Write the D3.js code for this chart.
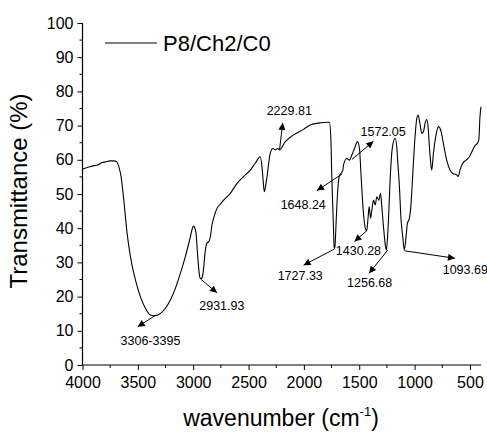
<!DOCTYPE html>
<html><head><meta charset="utf-8">
<script src="https://cdn.jsdelivr.net/npm/d3@7"></script>
<style>
html,body{margin:0;padding:0;background:#fff;}
text{font-family:"Liberation Sans",Arial,sans-serif;fill:#000;}
</style></head>
<body><svg id="c" width="487" height="437"></svg>
<script>
const wavenumber = [4000,3950,3898,3860,3838,3792,3750,3718,3693,3672,3651,3627,3597,3567,3522,3477,3432,3386,3360,3330,3296,3251,3206,3161,3116,3071,3025,3005,2996,2985,2974,2959,2941,2932,2920,2911,2890,2875,2860,2845,2830,2810,2785,2755,2725,2665,2604,2545,2484,2439,2394,2379,2368,2358,2345,2333,2304,2279,2259,2238,2220,2168,2093,2003,1943,1853,1790,1769,1756,1747,1732,1727,1720,1708,1696,1681,1666,1648,1642,1612,1589,1567,1543,1516,1498,1483,1462,1440,1432,1422,1410,1398,1386,1371,1356,1341,1323,1308,1296,1281,1263,1255,1245,1236,1221,1200,1176,1160,1155,1137,1122,1107,1093,1077,1065,1047,1034,1016,998,980,968,950,935,920,905,890,878,866,854,845,830,809,785,764,740,710,680,655,635,620,605,590,565,535,505,475,451,433,420,409,400];
const transmittance = [57.3,57.8,58.3,58.5,59.0,59.4,59.7,59.7,59.5,58.0,55.0,48.2,38.5,31.7,24.9,20.0,16.6,14.6,14.4,14.5,15.1,16.6,19.0,22.4,26.8,31.7,37.5,40.2,40.6,40.0,38.5,31.7,25.8,25.2,25.6,26.8,33.6,35.7,36.0,37.5,41.0,43.5,45.8,47.0,48.2,50.2,53.1,55.1,57.0,59.0,60.9,58.0,54.0,50.7,52.5,55.1,61.9,63.3,62.9,63.3,62.9,65.3,67.3,68.9,70.2,70.8,71.0,71.0,65.8,54.1,39.5,34.1,34.5,42.4,50.2,55.1,56.0,57.0,58.5,60.4,59.9,61.4,63.3,65.3,63.3,55.1,44.4,39.5,39.3,42.4,46.3,42.9,45.3,48.2,46.8,49.2,48.2,50.2,46.3,40.5,34.7,33.6,37.0,42.4,54.1,63.8,66.3,63.5,60.9,52.1,42.4,37.5,33.6,37.5,41.4,42.9,46.3,56.0,65.8,72.1,73.1,70.2,67.7,68.2,70.7,71.8,69.7,63.8,59.0,57.0,61.9,66.8,69.7,68.7,64.8,59.9,57.0,56.0,55.8,55.6,55.1,57.0,59.0,59.9,60.9,62.9,64.3,64.8,65.8,72.7,75.5];
const seriesName = "P8/Ch2/C0";
const xTicks = [4000,3500,3000,2500,2000,1500,1000,500];
const yTicks = [0,10,20,30,40,50,60,70,80,90,100];
// annotations: label, arrow start [wn,T], arrow end [wn,T], label anchor [wn,T]
const annLabels = ["3306-3395","2931.93","2229.81","1648.24","1572.05","1727.33","1430.28","1256.68","1093.69"];
const annFrom = [[3341,14.5],[2931,25.1],[2220,62.9],[1657,55.8],[1567,60.1],[1724,33.9],[1431,39.3],[1242,33.6],[1092,33.4]];
const annTo   = [[3501,11.2],[2785,21.1],[2191,70.8],[1882,51.0],[1372,65.4],[2003,29.2],[1543,36.1],[1411,26.8],[635,31.2]];
const annText = [[3386,5.85],[2741,16.1],[2132,73.1],[2006,45.6],[1284,67.0],[2033,24.9],[1507,32.2],[1406,22.8],[542,26.6]];

const svg = d3.select("#c");
svg.append("rect").attr("width",487).attr("height",437).attr("fill","#fff");
const x = d3.scaleLinear().domain([4000,400]).range([82.5,481]);
const y = d3.scaleLinear().domain([0,100]).range([365,23]);

const defs = svg.append("defs");
defs.append("marker").attr("id","ah").attr("viewBox","0 0 10 10").attr("refX",10).attr("refY",5)
  .attr("markerWidth",9).attr("markerHeight",7).attr("markerUnits","userSpaceOnUse").attr("orient","auto")
  .append("path").attr("d","M0,0 L10,5 L0,10 Z").attr("fill","#000");

// axes
const xAxis = svg.append("g").attr("transform","translate(0,365)")
  .call(d3.axisBottom(x).tickValues(xTicks).tickSize(5).tickPadding(7).tickFormat(d3.format("d")));
const xMinor = d3.range(3750,400,-500);
xAxis.selectAll(".minor").data(xMinor).enter().append("line").attr("class","minor")
  .attr("x1",d=>x(d)).attr("x2",d=>x(d)).attr("y1",0).attr("y2",3).attr("stroke","#000");
const yAxis = svg.append("g").attr("transform","translate(82.5,0)")
  .call(d3.axisLeft(y).tickValues(yTicks).tickSize(5).tickPadding(4));
const yMinor = d3.range(5,100,10);
yAxis.selectAll(".minor").data(yMinor).enter().append("line").attr("class","minor")
  .attr("x1",0).attr("x2",-3).attr("y1",d=>y(d)).attr("y2",d=>y(d)).attr("stroke","#000");
[xAxis,yAxis].forEach(g=>{
  g.select(".domain").attr("stroke","#000").attr("stroke-width",1.2).attr("d", g===xAxis ? "M82.5,0H481" : "M0,23V365");
  g.selectAll(".tick line").attr("stroke","#000");
  g.selectAll(".tick text").attr("font-size",16).attr("font-family","'Liberation Sans',Arial,sans-serif").attr("fill","#000");
});

// spectrum
const pts = wavenumber.map((w,i)=>[w,transmittance[i]]);
svg.append("path").datum(pts)
  .attr("d", d3.line().x(d=>x(d[0])).y(d=>y(d[1])).curve(d3.curveMonotoneX))
  .attr("fill","none").attr("stroke","#000").attr("stroke-width",1.1);

// annotations
annLabels.forEach((lab,i)=>{
  svg.append("line").attr("x1",x(annFrom[i][0])).attr("y1",y(annFrom[i][1]))
    .attr("x2",x(annTo[i][0])).attr("y2",y(annTo[i][1]))
    .attr("stroke","#000").attr("stroke-width",1).attr("marker-end","url(#ah)");
  svg.append("text").attr("x",x(annText[i][0])).attr("y",y(annText[i][1]))
    .attr("text-anchor","middle").attr("font-size",12.5).text(lab);
});

// legend
svg.append("line").attr("x1",105).attr("x2",157).attr("y1",43).attr("y2",43).attr("stroke","#000").attr("stroke-width",1.1);
svg.append("text").attr("x",163).attr("y",51).attr("font-size",22).text(seriesName);

// axis titles
svg.append("text").attr("transform","translate(27,191) rotate(-90)").attr("text-anchor","middle")
  .attr("font-size",24).text("Transmittance (%)");
const xt = svg.append("text").attr("x",281).attr("y",426).attr("text-anchor","middle").attr("font-size",23);
xt.append("tspan").text("wavenumber (cm");
xt.append("tspan").attr("font-size",13).attr("dy",-10).text("-1");
xt.append("tspan").attr("dy",10).text(")");
</script></body></html>
